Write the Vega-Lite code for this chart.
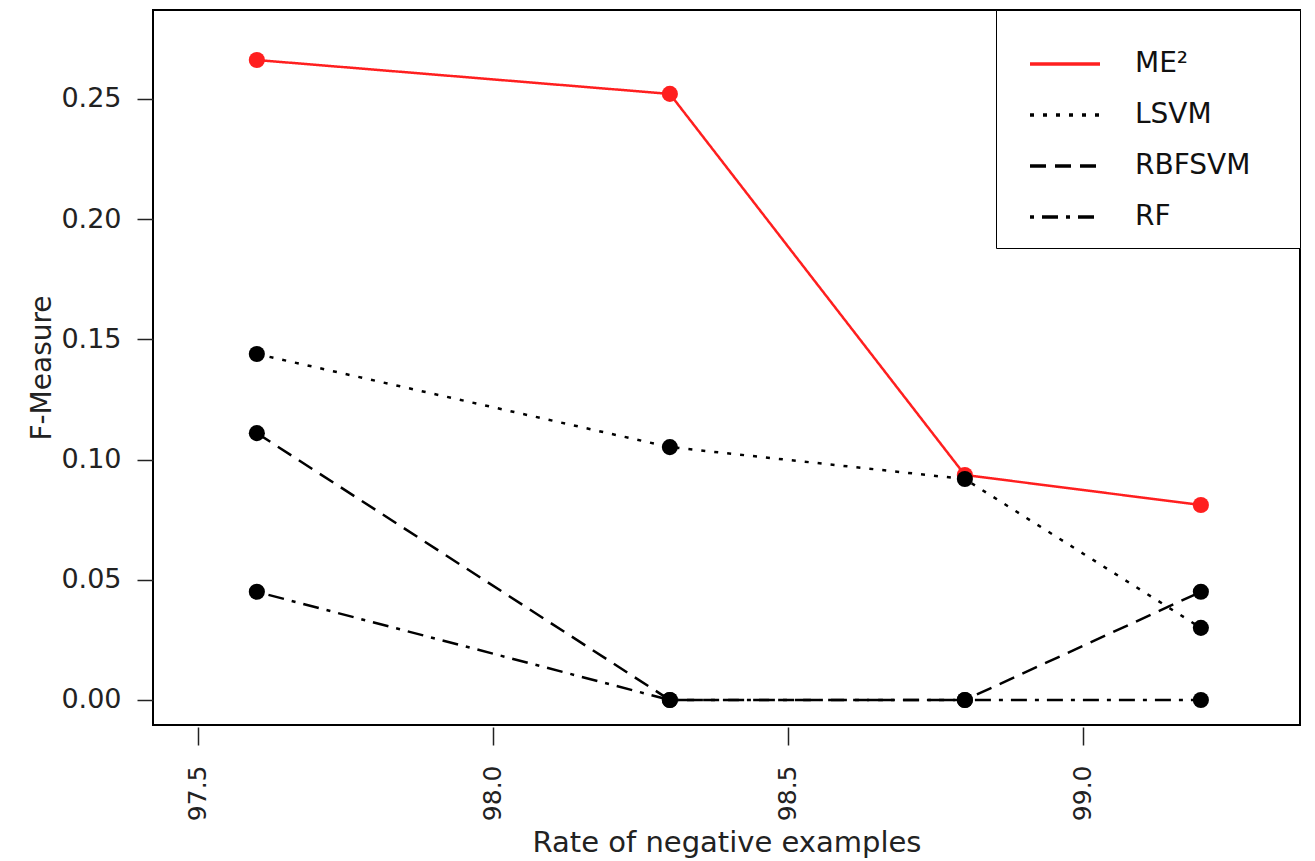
{
  "$schema": "https://vega.github.io/schema/vega-lite/v6.json",
  "width": 1147,
  "height": 715,
  "autosize": "none",
  "padding": {"left": 153, "top": 10, "right": 15, "bottom": 136},
  "background": "white",
  "config": {
    "font": "DejaVu Sans",
    "view": {"stroke": "black", "strokeWidth": 2},
    "axis": {"grid": false, "domain": false, "tickColor": "#222", "labelColor": "#222", "titleColor": "#222", "labelFont": "DejaVu Sans", "titleFont": "DejaVu Sans", "titleFontWeight": "normal"}
  },
  "data": {
    "values": [
      {"rate": 97.6, "fm": 0.2662, "method": "ME²"},
      {"rate": 98.3, "fm": 0.2521, "method": "ME²"},
      {"rate": 98.8, "fm": 0.0936, "method": "ME²"},
      {"rate": 99.2, "fm": 0.0811, "method": "ME²"},
      {"rate": 97.6, "fm": 0.1439, "method": "LSVM"},
      {"rate": 98.3, "fm": 0.1052, "method": "LSVM"},
      {"rate": 98.8, "fm": 0.0919, "method": "LSVM"},
      {"rate": 99.2, "fm": 0.0300, "method": "LSVM"},
      {"rate": 97.6, "fm": 0.1110, "method": "RBFSVM"},
      {"rate": 98.3, "fm": 0.0, "method": "RBFSVM"},
      {"rate": 98.8, "fm": 0.0, "method": "RBFSVM"},
      {"rate": 99.2, "fm": 0.0450, "method": "RBFSVM"},
      {"rate": 97.6, "fm": 0.0450, "method": "RF"},
      {"rate": 98.3, "fm": 0.0, "method": "RF"},
      {"rate": 98.8, "fm": 0.0, "method": "RF"},
      {"rate": 99.2, "fm": 0.0, "method": "RF"}
    ]
  },
  "encoding": {
    "x": {
      "field": "rate", "type": "quantitative",
      "scale": {"domain": [97.424, 99.368], "nice": false, "zero": false},
      "axis": {"values": [97.5, 98.0, 98.5, 99.0], "format": ".1f", "labelAngle": 270, "labelAlign": "right", "labelBaseline": "middle", "labelFontSize": 25, "tickSize": 18, "tickWidth": 1.5, "offset": 2, "labelPadding": 20, "title": "Rate of negative examples", "titleFontSize": 29, "titlePadding": 8}
    },
    "y": {
      "field": "fm", "type": "quantitative",
      "scale": {"domain": [-0.0104, 0.287], "nice": false, "zero": false},
      "axis": {"values": [0, 0.05, 0.1, 0.15, 0.2, 0.25], "format": ".2f", "labelFontSize": 27, "tickSize": 16, "tickWidth": 1.5, "labelPadding": 16, "title": "F-Measure", "titleFontSize": 28, "titlePadding": 4}
    }
  },
  "layer": [
    {
      "mark": {"type": "line", "strokeWidth": 2.5},
      "encoding": {
        "color": {
          "field": "method", "type": "nominal",
          "scale": {"domain": ["ME²", "LSVM", "RBFSVM", "RF"], "range": ["#ff1f1f", "black", "black", "black"]},
          "legend": {"title": "___", "titleColor": "white", "titleOrient": "right", "titleFontSize": 22, "titlePadding": 0, "orient": "top-right", "offset": 0, "strokeColor": "black", "fillColor": "white", "padding": 17, "labelFontSize": 28, "labelColor": "#111", "labelOffset": 33, "symbolOffset": 15, "symbolType": "stroke", "symbolSize": 4900, "symbolStrokeWidth": 3.5, "rowPadding": -18, "labelFont": "DejaVu Sans"}
        },
        "strokeDash": {
          "field": "method", "type": "nominal",
          "scale": {"domain": ["ME²", "LSVM", "RBFSVM", "RF"], "range": [[1, 0], [4, 9], [16, 9], [4, 8, 16, 8]]},
          "legend": {"title": "___", "titleColor": "white", "titleOrient": "right", "titleFontSize": 22, "titlePadding": 0, "orient": "top-right", "offset": 0, "strokeColor": "black", "fillColor": "white", "padding": 17, "labelFontSize": 28, "labelColor": "#111", "labelOffset": 33, "symbolOffset": 15, "symbolType": "stroke", "symbolSize": 4900, "symbolStrokeWidth": 3.5, "rowPadding": -18, "labelFont": "DejaVu Sans"}
        },
        "detail": {"field": "method"}
      }
    },
    {
      "mark": {"type": "point", "filled": true, "size": 260, "opacity": 1},
      "encoding": {
        "color": {"condition": {"test": "datum.method === 'ME²'", "value": "#ff1f1f"}, "value": "black"}
      }
    }
  ]
}
